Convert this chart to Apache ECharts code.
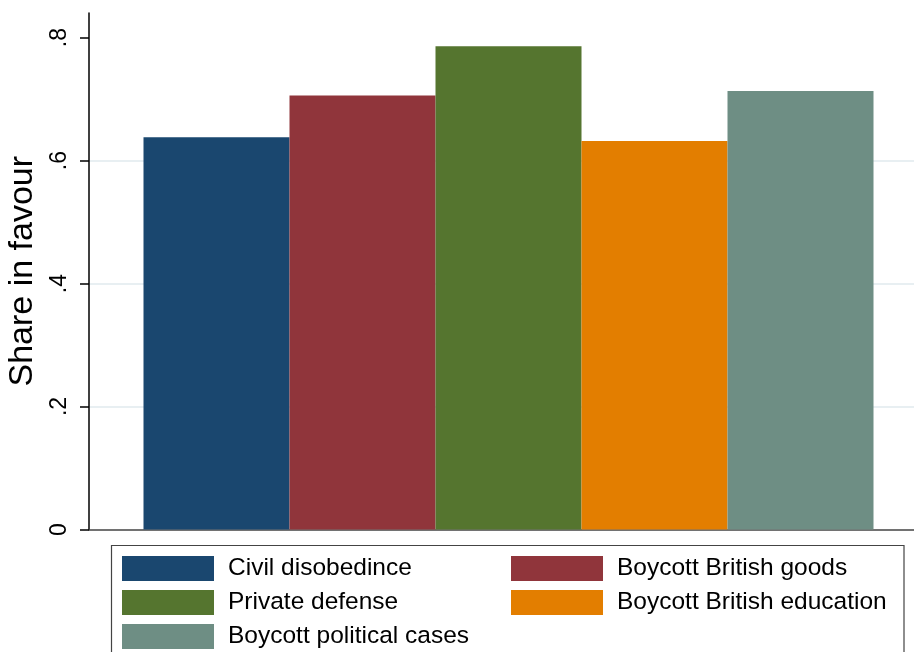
<!DOCTYPE html>
<html>
<head>
<meta charset="utf-8">
<script src="https://cdn.jsdelivr.net/npm/echarts@6/dist/echarts.min.js"></script>
<style>
html,body{margin:0;padding:0;background:#fff;}
#chart{width:914px;height:652px;}
</style>
</head>
<body>
<div id="chart"></div>
<script>
// Data
var seriesNames = ['Civil disobedince', 'Boycott British goods', 'Private defense', 'Boycott British education', 'Boycott political cases'];
var seriesValues = [0.638, 0.706, 0.786, 0.632, 0.713];
var seriesColors = ['#1a476f', '#90353b', '#55752f', '#e37e00', '#6e8e84'];
var yTicks = [0, 0.2, 0.4, 0.6, 0.8];
var legendCol1 = ['Civil disobedince', 'Private defense', 'Boycott political cases'];
var legendCol2 = ['Boycott British goods', 'Boycott British education'];
var yTitle = 'Share in favour';

var FONT = 'Liberation Sans, Arial, Helvetica, sans-serif';
var chart = echarts.init(document.getElementById('chart'), null, {renderer: 'canvas'});

var series = seriesNames.map(function (n, i) {
  return {
    name: n,
    type: 'bar',
    data: [seriesValues[i]],
    barWidth: 146,
    barGap: '0%',
    itemStyle: {color: seriesColors[i]},
    animation: false
  };
});

function legendBase(names, left) {
  return {
    data: names,
    orient: 'vertical',
    left: left,
    top: 556,
    padding: 0,
    itemWidth: 92,
    itemHeight: 25,
    itemGap: 9,
    icon: 'rect',
    selectedMode: false,
    textStyle: {fontFamily: FONT, fontSize: 24.5, color: '#000', padding: [3, 0, 0, 9]}
  };
}

chart.setOption({
  animation: false,
  backgroundColor: '#fff',
  grid: {left: 89, top: 13, bottom: 122.5, width: 839, containLabel: false, outerBoundsMode: 'none'},
  xAxis: {
    type: 'category',
    data: [''],
    axisLine: {show: true, lineStyle: {color: '#444', width: 1.5}},
    axisTick: {show: false},
    axisLabel: {show: false},
    splitLine: {show: false}
  },
  yAxis: {
    type: 'value',
    min: 0,
    max: 0.84,
    interval: 0.2,
    name: yTitle,
    nameLocation: 'middle',
    nameGap: 49,
    nameTextStyle: {fontFamily: FONT, fontSize: 34, color: '#000'},
    axisLine: {show: true, lineStyle: {color: '#000', width: 1.5}},
    axisTick: {show: true, length: 9, lineStyle: {color: '#000', width: 1.5}, customValues: yTicks},
    axisLabel: {
      rotate: 90,
      margin: 18,
      fontFamily: FONT,
      fontSize: 23,
      color: '#000',
      customValues: yTicks,
      formatter: function (v) { return v === 0 ? '0' : v.toFixed(1).replace(/^0/, ''); }
    },
    splitLine: {show: true, showMinLine: false, showMaxLine: false, lineStyle: {color: '#e8eff2', width: 2}}
  },
  legend: [legendBase(legendCol1, 122), legendBase(legendCol2, 511)],
  graphic: [{
    type: 'rect',
    shape: {x: 111.5, y: 545.5, width: 792.5, height: 130},
    style: {fill: 'none', stroke: '#444', lineWidth: 1.2},
    silent: true
  }],
  series: series
});
</script>
</body>
</html>
